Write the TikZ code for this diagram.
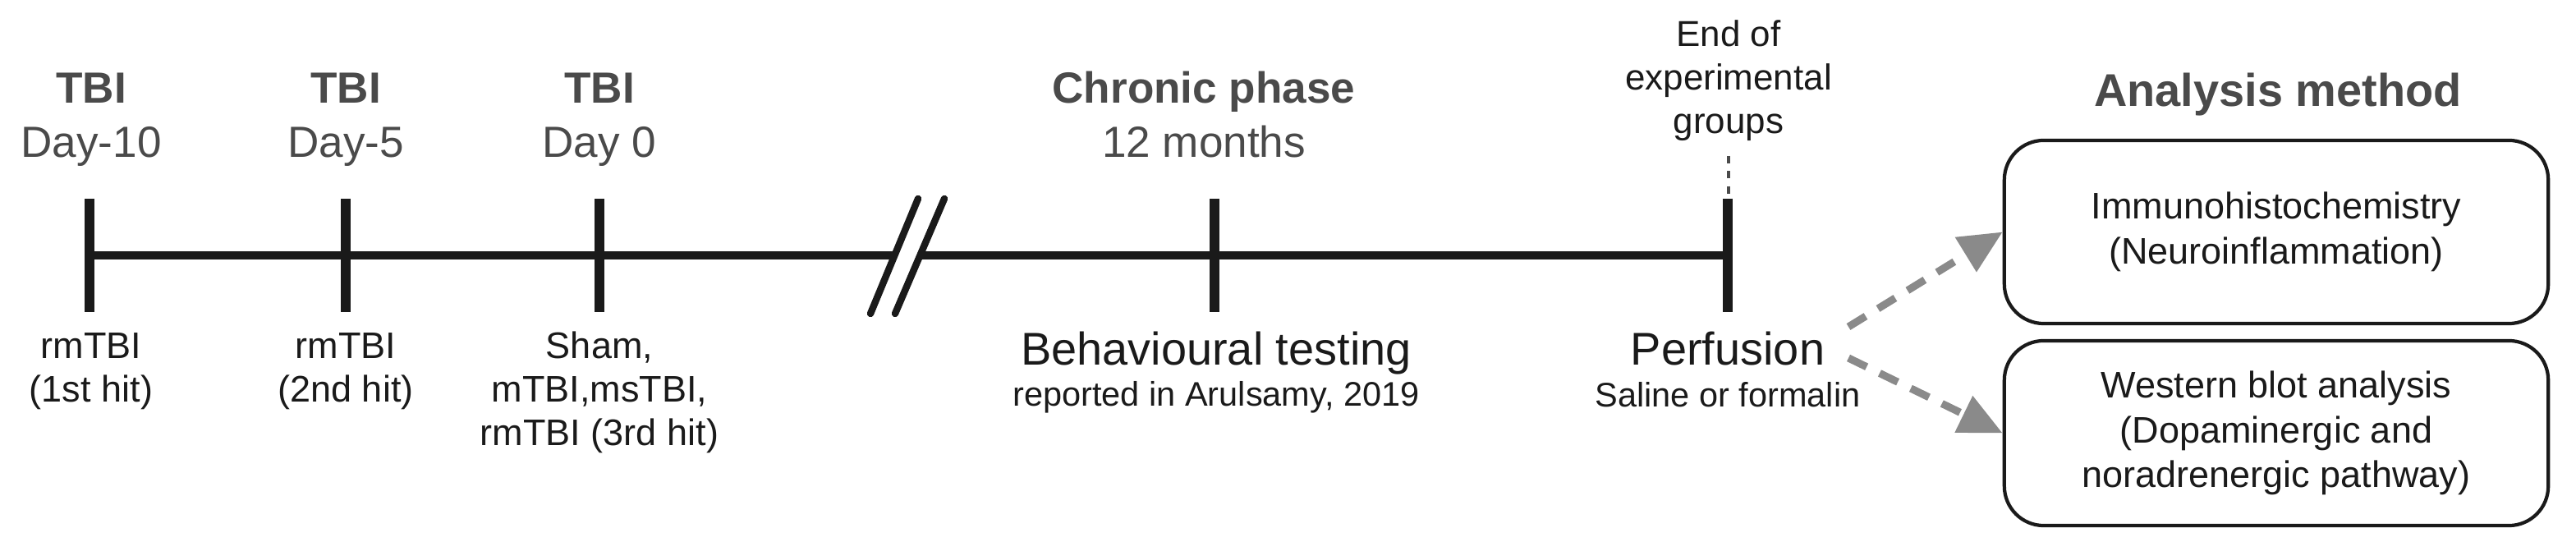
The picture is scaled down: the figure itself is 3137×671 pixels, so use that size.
\documentclass[tikz,border=0pt]{standalone}
\usepackage{fontspec}
\setmainfont{Liberation Sans}
\usetikzlibrary{arrows.meta,calc}
\definecolor{headgray}{HTML}{4A4A4A}
\definecolor{txt}{HTML}{1A1A1A}
\definecolor{arrgray}{HTML}{8A8A8A}
\begin{document}
\begin{tikzpicture}[x=0.01cm,y=-0.01cm,
  axis/.style={line width=2.9pt,color=txt},
  tickmark/.style={line width=3.2pt,color=txt},
  brk/.style={line width=2.4pt,color=txt,line cap=round},
  head/.style={font=\fontsize{15.1}{18.8}\selectfont,text=headgray,align=center,inner sep=0pt,anchor=base},
  lab/.style={font=\fontsize{12.8}{15.1}\selectfont,text=txt,align=center,inner sep=0pt,anchor=base},
  big/.style={font=\fontsize{15.9}{18}\selectfont,text=txt,align=center,inner sep=0pt,anchor=base},
  small/.style={font=\fontsize{11.8}{14}\selectfont,text=txt,align=center,inner sep=0pt,anchor=base},
  endlab/.style={font=\fontsize{12.5}{15.1}\selectfont,text=txt,align=center,inner sep=0pt,anchor=base},
  methodbox/.style={draw=txt,line width=1.2pt,rounded corners=0.48cm,minimum width=6.62cm,
    font=\fontsize{12.8}{15.6}\selectfont,text=txt,align=center,inner sep=0pt},
  flow/.style={arrgray,line width=2.6pt,dash pattern=on 7pt off 5pt,
    -{Triangle[length=15pt,width=13.5pt]}}
]
\useasboundingbox (0,0) rectangle (3137,671);
% timeline coordinates
\coordinate (t1) at (109,311);
\coordinate (t2) at (421,311);
\coordinate (t3) at (730,311);
\coordinate (t4) at (1479,311);
\coordinate (t5) at (2104,311);
\coordinate (bl) at (1089,311);
\coordinate (br) at (1120,311);
% axis
\draw[axis] (t1) -- (bl);
\draw[axis] (br) -- (t5);
% break marks
\coordinate (s1a) at (1118,242); \coordinate (s1b) at (1060,382);
\coordinate (s2a) at (1150,242); \coordinate (s2b) at (1090,382);
\draw[brk] (s1a) -- (s1b);
\draw[brk] (s2a) -- (s2b);
% ticks
\foreach \t in {t1,t2,t3,t4,t5}
  \draw[tickmark] ($(\t)+(0,-69)$) -- ($(\t)+(0,69)$);
% dotted lead above end tick
\coordinate (e1) at (2105,190);
\coordinate (e2) at (2105,240);
\draw[headgray,line width=0.9pt,dash pattern=on 2.6pt off 2.6pt] (e1) -- (e2);
% headings (base anchor = last line's baseline)
\node[head] (h1) at (111,192) {\textbf{TBI}\\Day-10};
\node[head] (h2) at (421,192) {\textbf{TBI}\\Day-5};
\node[head] (h3) at (730,192) {\textbf{TBI}\\Day 0};
\node[head] (h4) at (1466,192) {\textbf{Chronic phase}\\12 months};
\node[endlab] (endg) at (2105,163) {End of\\experimental\\groups};
% labels below
\node[lab] (l1) at (111,490) {rmTBI\\(1st hit)};
\node[lab] (l2) at (421,490) {rmTBI\\(2nd hit)};
\node[lab] (l3) at (730,543) {Sham,\\mTBI,msTBI,\\rmTBI (3rd hit)};
\node[big] (beh) at (1481,445) {Behavioural testing};
\node[small] (rep) at (1481,495) {reported in Arulsamy, 2019};
\node[big] (perf) at (2104,445) {Perfusion};
\node[small] (sal) at (2104,496) {Saline or formalin};
% analysis
\node[font=\fontsize{15.9}{18}\selectfont\bfseries,text=headgray,inner sep=0pt,anchor=base] (am) at (2774,130) {Analysis method};
\node[methodbox,minimum height=2.23cm] (ihc) at (2772,282.5) {Immunohistochemistry\\(Neuroinflammation)};
\node[methodbox,minimum height=2.25cm] (wb) at (2772,527.5) {Western blot analysis\\(Dopaminergic and\\noradrenergic pathway)};
% arrows
\coordinate (a1) at (2251,398);
\coordinate (a2) at (2251,436);
\draw[flow] (a1) -- (ihc.west);
\draw[flow] (a2) -- (wb.west);
\end{tikzpicture}
\end{document}
